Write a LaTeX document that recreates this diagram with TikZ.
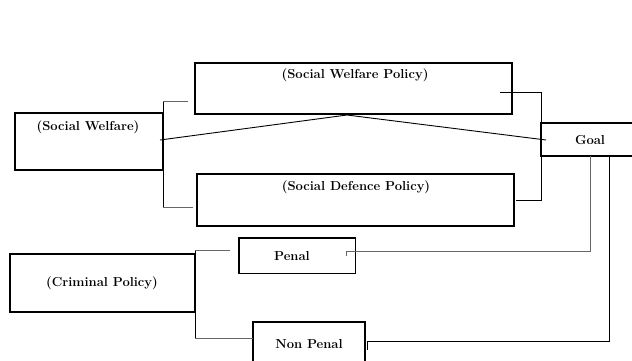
\documentclass[tikz,border=0pt]{standalone}
\begin{document}
\begin{tikzpicture}[x=1pt,y=-1pt,
  boxst/.style={draw=black,line width=1.3pt,rectangle},
  lbl/.style={font=\bfseries\fontsize{13}{15}\selectfont,inner sep=0pt},
  conn/.style={line width=0.9pt,draw=black},
  gconn/.style={line width=0.9pt,draw=black!60}]
\useasboundingbox (0,0) rectangle (632,360);
% boxes
\draw[boxst] (15,113) rectangle (163,170);
\draw[boxst] (195,63) rectangle (512,114);
\draw[boxst] (197,174) rectangle (514,226);
\draw[boxst] (541,123) rectangle (636,156);
\draw[boxst] (10,254) rectangle (195,312);
\draw[boxst] (239,238) rectangle (355.5,273.5);
\draw[boxst] (253,322) rectangle (365,366);
% labels
\node[lbl] (sw) at (88,127) {(Social Welfare)};
\node[lbl] (swp) at (355,75) {(Social Welfare Policy)};
\node[lbl] (sdp) at (356,187) {(Social Defence Policy)};
\node[lbl] (goal) at (590,140) {Goal};
\node[lbl] (cp) at (102,283) {(Criminal Policy)};
\node[lbl] (penal) at (292,256) {Penal};
\node[lbl] (np) at (309,344) {Non Penal};
% connector points
\coordinate (a1) at (188,101.7);
\coordinate (a2) at (163,101.7);
\coordinate (a3) at (163,207);
\coordinate (a4) at (193,207);
\coordinate (v1) at (160,140);
\coordinate (v2) at (347,115);
\coordinate (v3) at (546,140);
\coordinate (b1) at (500,92);
\coordinate (b2) at (541,92);
\coordinate (b3) at (541,200);
\coordinate (b4) at (516,200);
\coordinate (p1) at (346,256);
\coordinate (p2) at (346,251);
\coordinate (p3) at (590,251);
\coordinate (p4) at (590,156);
\coordinate (n1) at (367.7,350);
\coordinate (n2) at (367.7,341);
\coordinate (n3) at (609.3,341);
\coordinate (n4) at (609.3,156);
\coordinate (c1) at (230,250.7);
\coordinate (c2) at (195,250.7);
\coordinate (c3) at (195,338);
\coordinate (c4) at (253,338);
% connectors
\draw[gconn] (a1) -- (a2);
\draw[conn] (a2) -- (a3);
\draw[gconn] (a3) -- (a4);
\draw[conn] (v1) -- (v2) -- (v3);
\draw[conn] (b1) -- (b2) -- (b3) -- (b4);
\draw[gconn] (p1) -- (p2) -- (p3) -- (p4);
\draw[conn] (n1) -- (n2) -- (n3) -- (n4);
\draw[gconn] (c1) -- (c2);
\draw[conn] (c2) -- (c3);
\draw[gconn] (c3) -- (c4);
\end{tikzpicture}
\end{document}
